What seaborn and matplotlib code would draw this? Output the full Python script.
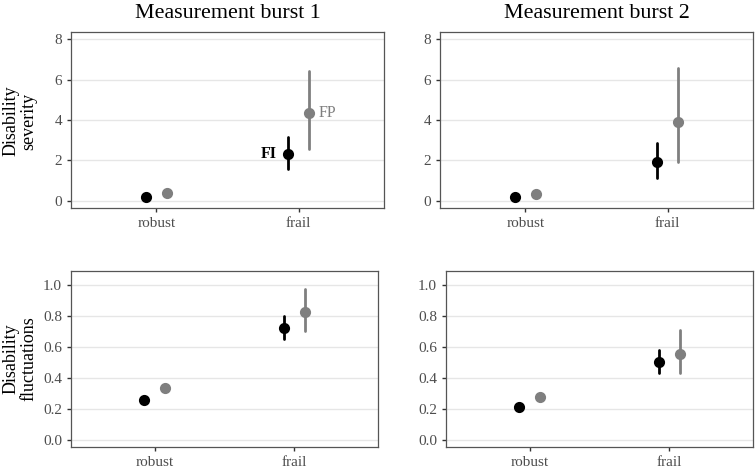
import matplotlib
matplotlib.use("Agg")
import matplotlib.pyplot as plt
import seaborn as sns
import numpy as np
import pandas as pd

sns.set_theme(style="white")
plt.rcParams['font.family'] = ['Liberation Serif', 'DejaVu Serif']

# ---- data ----
categories = ["robust", "frail"]
groups = ["FI", "FP"]
bursts = ["Measurement burst 1", "Measurement burst 2"]
outcomes = ["Disability\nseverity", "Disability\nfluctuations"]

# severity, burst 1  (order: robust-FI, robust-FP, frail-FI, frail-FP)
sev1_mid = [0.18, 0.37, 2.30, 4.36]
sev1_lo  = [0.10, 0.27, 1.59, 2.56]
sev1_hi  = [0.26, 0.47, 3.17, 6.44]
# severity, burst 2
sev2_mid = [0.20, 0.35, 1.90, 3.91]
sev2_lo  = [0.12, 0.25, 1.14, 1.90]
sev2_hi  = [0.28, 0.45, 2.84, 6.58]
# fluctuations, burst 1
flu1_mid = [0.256, 0.337, 0.723, 0.826]
flu1_lo  = [0.246, 0.322, 0.650, 0.703]
flu1_hi  = [0.266, 0.352, 0.800, 0.972]
# fluctuations, burst 2
flu2_mid = [0.211, 0.278, 0.503, 0.557]
flu2_lo  = [0.201, 0.265, 0.432, 0.432]
flu2_hi  = [0.221, 0.291, 0.583, 0.710]

sev_ticks = [0, 2, 4, 6, 8]
sev_ticklabels = ["0", "2", "4", "6", "8"]
flu_ticks = [0.0, 0.2, 0.4, 0.6, 0.8, 1.0]
flu_ticklabels = ["0.0", "0.2", "0.4", "0.6", "0.8", "1.0"]

palette = {"FI": "black", "FP": "#7f7f7f"}


def long_frame(mid, lo, hi):
    rows = []
    keys = [(c, g) for c in categories for g in groups]
    for (c, g), m, l, h in zip(keys, mid, lo, hi):
        for v in (l, m, h):
            rows.append({"frailty": c, "measure": g, "value": v})
    return pd.DataFrame(rows)


W, H = 755, 468
fig = plt.figure(figsize=(W / 100, H / 100), dpi=100)


def add_ax(x0, x1, y0, y1):
    return fig.add_axes([x0 / W, 1 - y1 / H, (x1 - x0) / W, (y1 - y0) / H])


panels = [
    (add_ax(71, 384, 32, 208), (sev1_mid, sev1_lo, sev1_hi), "sev"),
    (add_ax(440, 753, 32, 208), (sev2_mid, sev2_lo, sev2_hi), "sev"),
    (add_ax(71, 378, 271, 447), (flu1_mid, flu1_lo, flu1_hi), "flu"),
    (add_ax(446, 753, 271, 447), (flu2_mid, flu2_lo, flu2_hi), "flu"),
]

for i, (ax, (mid, lo, hi), kind) in enumerate(panels):
    df = long_frame(mid, lo, hi)
    sns.pointplot(data=df, x="frailty", y="value", hue="measure",
                  order=categories, hue_order=groups, palette=palette,
                  estimator=np.median,
                  errorbar=lambda v: (np.min(v), np.max(v)),
                  dodge=0.15, linestyle="none", markers="o",
                  markersize=6, err_kws={"linewidth": 2},
                  legend=False, ax=ax)
    ax.set_xlim(-0.6, 1.6)
    if kind == "sev":
        ax.set_ylim(-0.37, 8.37)
        ax.set_yticks(sev_ticks)
        ax.set_yticklabels(sev_ticklabels)
    else:
        ax.set_ylim(-0.045, 1.09)
        ax.set_yticks(flu_ticks)
        ax.set_yticklabels(flu_ticklabels)
    ax.set_xlabel("")
    ax.set_ylabel("")
    ax.yaxis.grid(True, color="#e6e6e6", linewidth=1.0)
    ax.xaxis.grid(False)
    ax.set_axisbelow(True)
    for s in ax.spines.values():
        s.set_color("#555555")
        s.set_linewidth(0.9)
    ax.tick_params(axis="both", which="major", length=3, width=1,
                   color="#333333", labelcolor="#4d4d4d", labelsize=11,
                   pad=3.5, left=True, bottom=True)

# panel annotations
ax0 = panels[0][0]
ax0.annotate("FI", xy=(1 - 0.075, sev1_mid[2]), xytext=(-8, 0),
             textcoords="offset points", ha="right", va="center",
             fontsize=11.5, fontweight="bold", color="black")
ax0.annotate("FP", xy=(1 + 0.075, sev1_mid[3]), xytext=(6.5, 0),
             textcoords="offset points", ha="left", va="center",
             fontsize=11.5, color="#7f7f7f")

# column titles
fig.text(227.5 / W, 1 - 14 / H, bursts[0], ha="center", va="center", fontsize=15.8, color="black")
fig.text(596.5 / W, 1 - 14 / H, bursts[1], ha="center", va="center", fontsize=15.8, color="black")

# row labels
fig.text(20 / W, 1 - 121 / H, outcomes[0], ha="center", va="center",
         rotation=90, fontsize=13, linespacing=1.05, color="black")
fig.text(20 / W, 1 - 359 / H, outcomes[1], ha="center", va="center",
         rotation=90, fontsize=13, linespacing=1.05, color="black")

fig.savefig("out.png", dpi=100)
